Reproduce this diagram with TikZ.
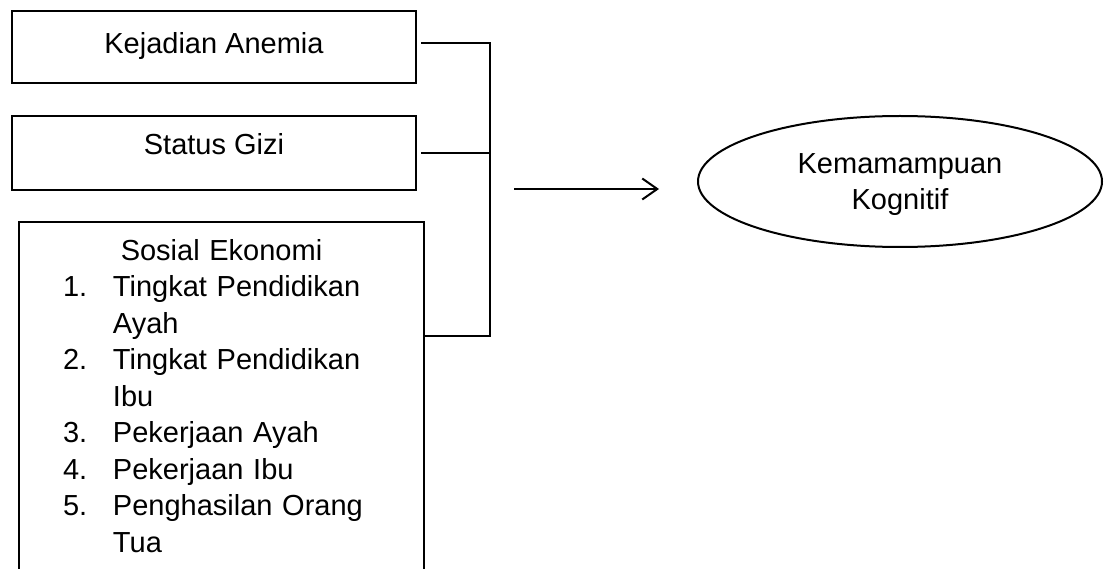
\documentclass[tikz,border=0pt]{standalone}
\usepackage{fontspec}
\setmainfont{Liberation Sans}
\usetikzlibrary{positioning,arrows.meta,shapes.geometric}

\begin{document}
\begin{tikzpicture}[
  x=1pt, y=-1pt,
  font=\fontsize{29}{36.5}\selectfont,
  box/.style={draw, line width=2pt, minimum width=404pt, inner sep=0pt,
              outer sep=0pt, text height=20pt, text depth=12pt},
  link/.style={line width=1.5pt},
  arr/.style={-{Straight Barb[length=15pt,width=21pt]}, line width=2pt},
]
  \useasboundingbox (0,0) rectangle (1106,569);
  \clip (0,0) rectangle (1106,569);

  \node[box, minimum height=72pt, text depth=6pt] (anemia) at (214,47) {Kejadian Anemia};
  \node[box, minimum height=74pt, text depth=16pt, below=33pt of anemia] (gizi) {Status Gizi};
  \node[below right=32pt and 7pt of gizi.south west, text width=317pt,
        inner xsep=44pt, inner ysep=17pt, outer sep=0pt, align=left] (sosek)
    {\makebox[317pt]{Sosial Ekonomi}\\
     \makebox[50pt][l]{1.}Tingkat Pendidikan\\
     \hspace*{50pt}Ayah\\
     \makebox[50pt][l]{2.}Tingkat Pendidikan\\
     \hspace*{50pt}Ibu\\
     \makebox[50pt][l]{3.}Pekerjaan Ayah\\
     \makebox[50pt][l]{4.}Pekerjaan Ibu\\
     \makebox[50pt][l]{5.}Penghasilan Orang\\
     \hspace*{50pt}Tua};
  % box is open at the bottom of the page
  \draw[line width=2pt] (sosek.south west) -- (sosek.north west)
    -- (sosek.north east) -- (sosek.south east);

  \node[ellipse, draw, line width=2pt, minimum width=404pt, minimum height=131pt,
        inner sep=0pt, align=center] (kognitif) at (900,181.5)
    {\rule{0pt}{26pt}Kemamampuan\\Kognitif};

  \coordinate (jtop) at (490,43);
  \coordinate (jbot) at (490,336);
  \coordinate (arrS) at (514,189);
  \coordinate (arrE) at (659,189);

  \draw[link] ([xshift=5pt,yshift=4pt]anemia.east) -- (jtop) -- (jbot)
    -- (sosek.east |- jbot);
  \draw[link] ([xshift=5pt]gizi.east) -- (gizi.east -| jtop);
  \draw[arr] (arrS) -- (arrE);
\end{tikzpicture}
\end{document}
